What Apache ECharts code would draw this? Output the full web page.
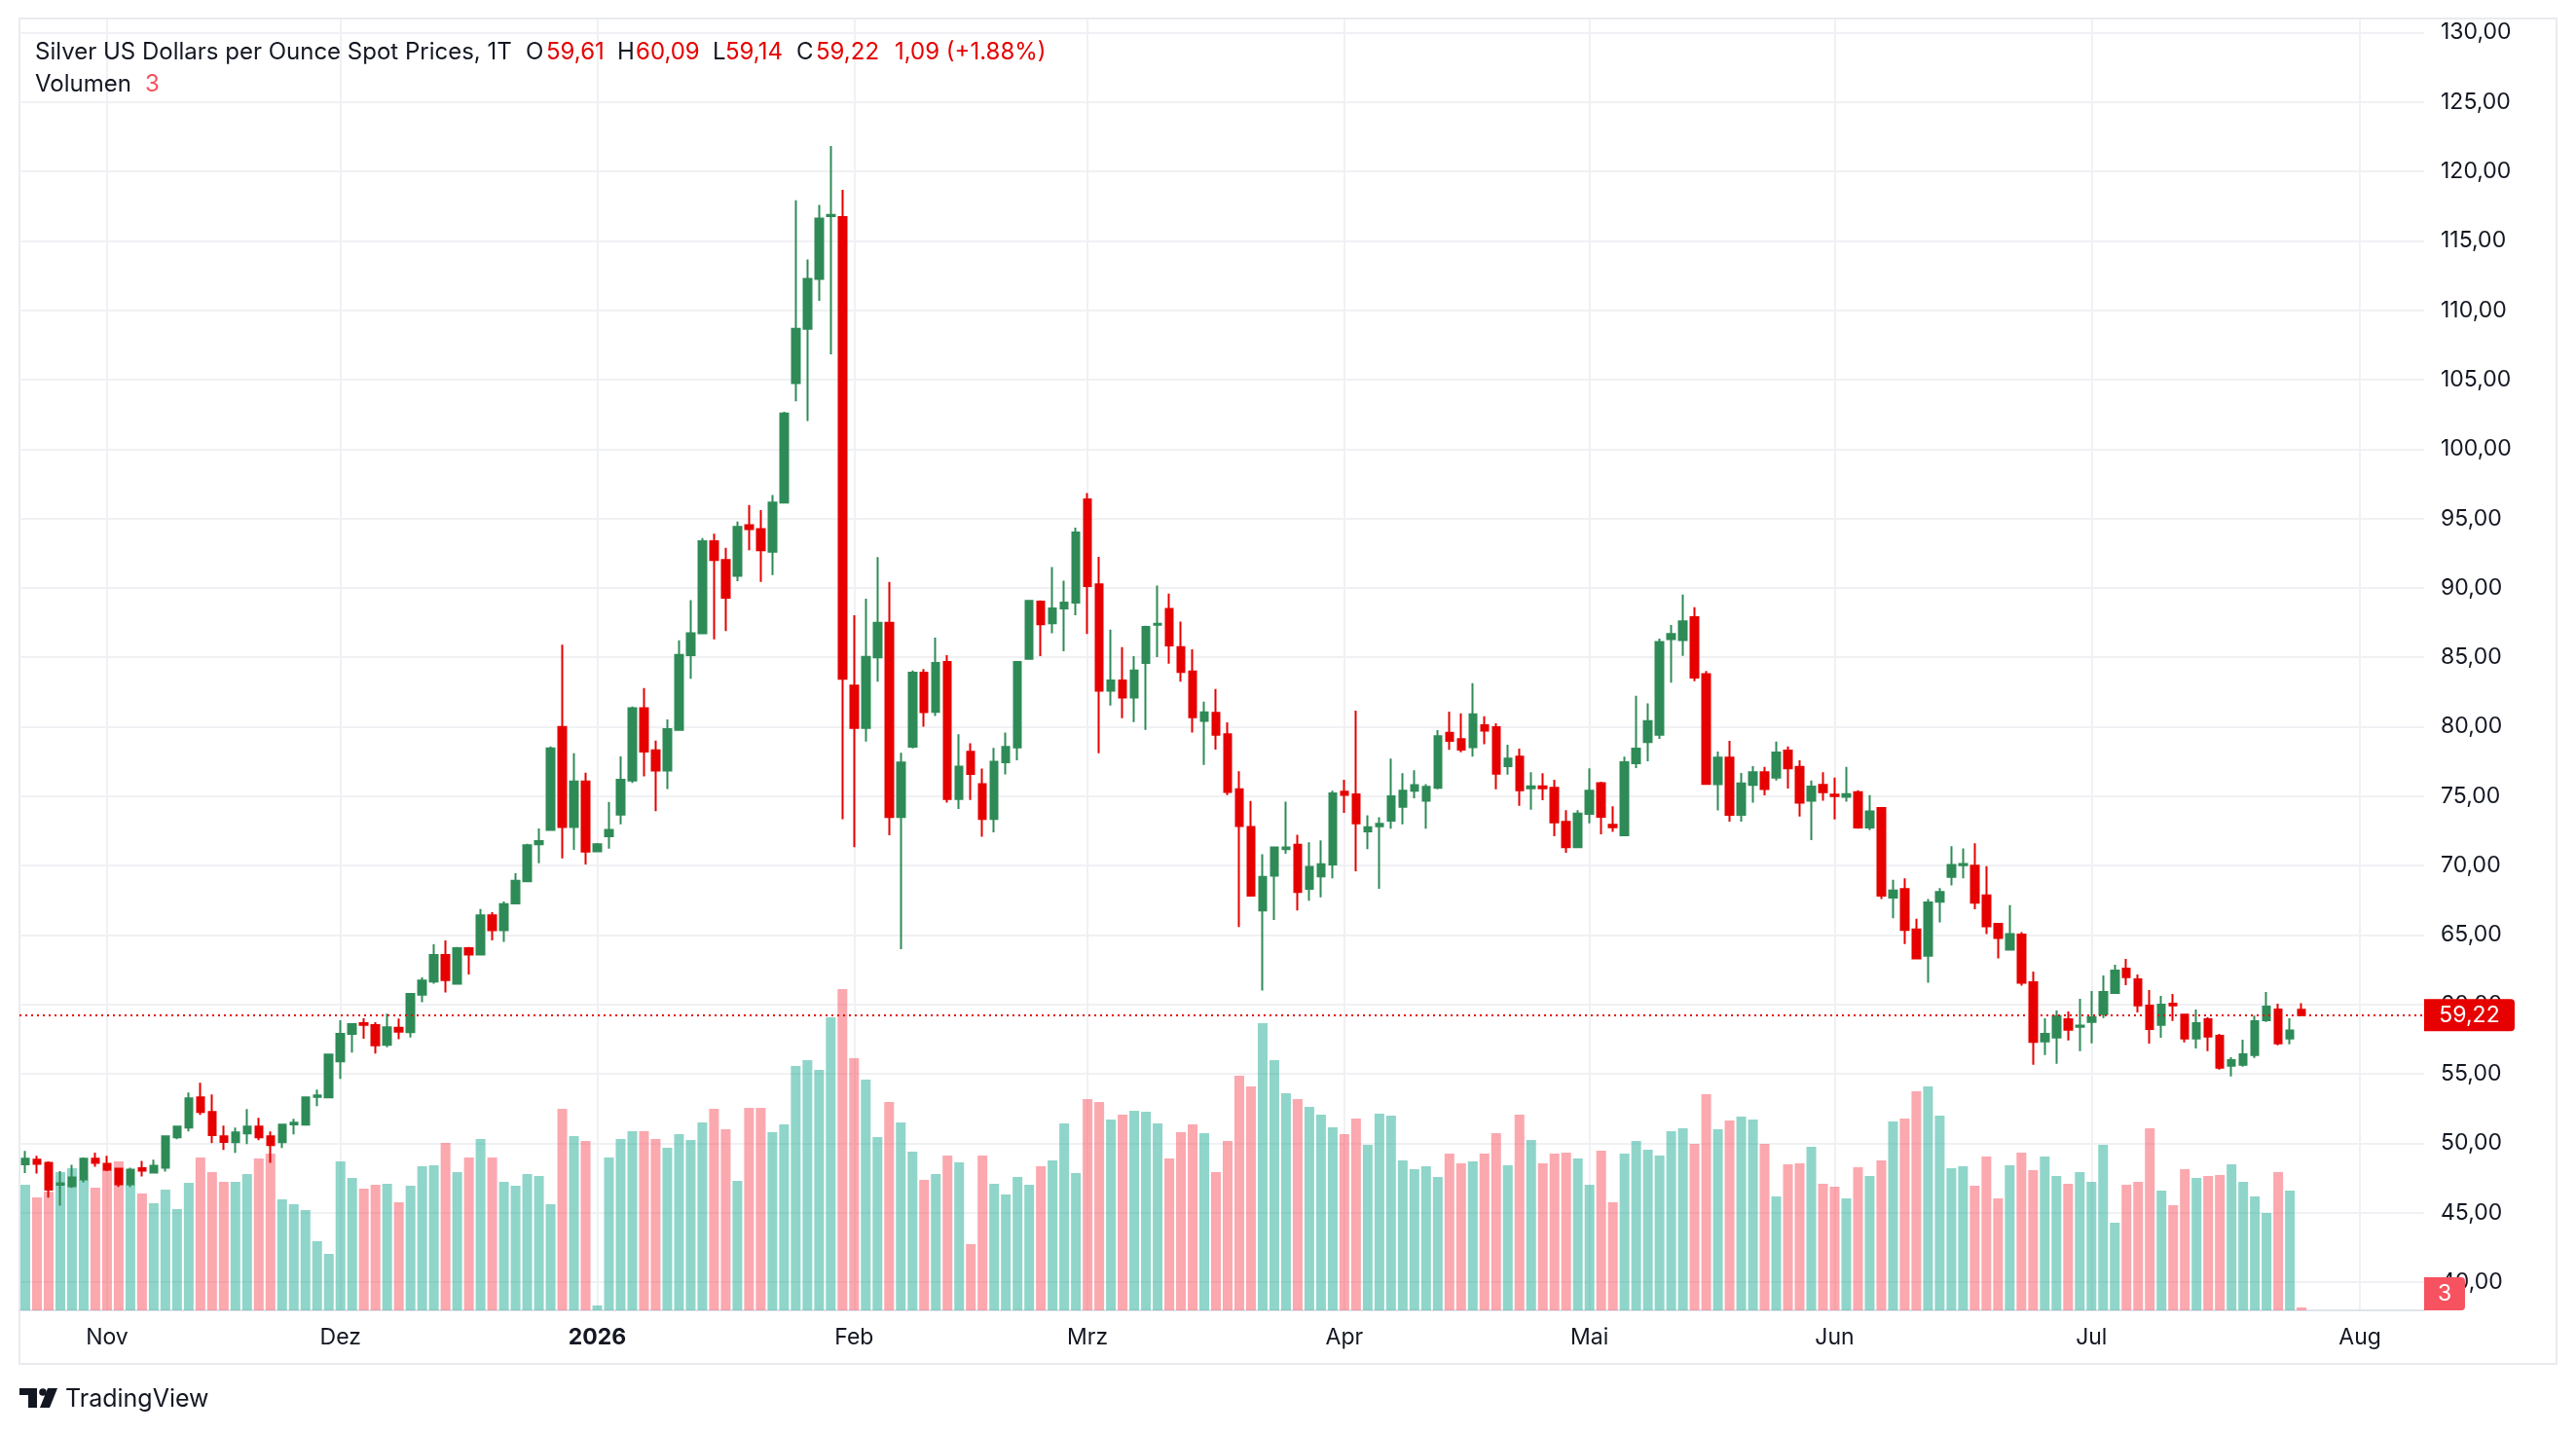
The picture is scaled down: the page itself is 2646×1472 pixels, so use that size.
<!DOCTYPE html>
<html>
<head>
<meta charset="utf-8">
<title>Silver US Dollars per Ounce Spot Prices</title>
<script src="https://cdn.jsdelivr.net/npm/echarts@6/dist/echarts.min.js"></script>
<style>
  html, body { margin: 0; background: #fff; }
  #chart { width: 2646px; height: 1472px; }
</style>
</head>
<body>
<div id="chart"></div>
<script>
// trading days start here, weekends and these days are skipped
const startDate = '2025-10-23'
const holidays = ['2025-12-25', '2026-04-03']
const slotCount = 206 // bars + empty future slots on the right

const opens = [48.48, 48.81, 48.59, 47.00, 46.91, 47.40, 48.88, 48.52, 48.17, 47.05, 48.20, 47.89, 48.24, 50.42, 51.12, 53.30, 52.25, 50.49, 50.07, 50.70, 51.19, 50.49, 50.07, 51.36, 51.33, 53.33, 53.30, 55.90, 57.87, 58.64, 58.50, 57.08, 58.32, 58.00, 60.70, 61.65, 63.56, 61.49, 64.04, 63.59, 66.42, 65.34, 67.28, 68.87, 71.54, 72.56, 79.99, 72.78, 76.05, 71.03, 72.11, 73.67, 76.12, 81.33, 78.31, 76.85, 79.77, 85.15, 86.73, 93.37, 92.01, 90.87, 94.51, 94.24, 92.61, 96.15, 104.75, 108.67, 112.26, 116.78, 116.72, 82.97, 79.92, 84.99, 87.49, 73.50, 78.56, 83.90, 81.07, 84.67, 74.80, 78.20, 75.87, 73.35, 77.44, 78.51, 84.89, 89.02, 87.46, 88.53, 88.95, 96.37, 90.25, 82.60, 83.33, 82.10, 84.59, 87.34, 88.49, 85.74, 83.98, 80.42, 81.00, 79.46, 75.49, 72.77, 66.76, 69.28, 71.19, 71.50, 68.33, 69.22, 70.07, 75.32, 75.12, 72.46, 72.83, 73.24, 74.23, 75.39, 74.68, 75.60, 79.56, 79.11, 78.53, 80.10, 79.97, 77.17, 77.85, 75.56, 75.70, 75.60, 73.14, 71.33, 73.72, 75.94, 72.94, 72.18, 77.37, 78.89, 79.43, 86.32, 86.25, 87.90, 83.79, 75.86, 77.78, 73.66, 75.82, 76.73, 76.33, 78.29, 77.11, 74.68, 75.82, 75.11, 74.95, 75.28, 72.75, 74.14, 67.69, 68.30, 65.40, 63.51, 67.39, 69.18, 70.02, 69.99, 67.86, 65.80, 63.95, 65.03, 61.59, 57.33, 57.61, 58.92, 58.39, 58.74, 59.30, 60.82, 62.57, 61.80, 59.91, 58.53, 60.05, 59.27, 57.54, 58.92, 57.73, 55.58, 55.65, 56.35, 58.85, 59.63, 57.54, 59.61]
const highs = [49.44, 49.09, 48.69, 47.99, 48.45, 48.97, 49.32, 49.09, 48.22, 48.24, 48.73, 48.81, 50.49, 51.19, 53.65, 54.36, 53.51, 51.26, 51.12, 52.46, 51.83, 50.84, 51.41, 51.76, 53.37, 53.86, 56.46, 58.85, 58.64, 58.99, 58.71, 59.33, 58.98, 60.76, 61.94, 64.32, 64.61, 64.13, 64.13, 66.87, 66.64, 67.41, 69.44, 71.57, 72.68, 78.59, 85.91, 78.09, 76.69, 71.63, 74.59, 77.86, 81.46, 82.79, 79.01, 80.53, 86.22, 89.12, 93.59, 93.91, 92.88, 94.78, 95.98, 95.60, 96.69, 102.68, 117.92, 113.67, 117.59, 121.84, 118.68, 88.03, 89.23, 92.23, 90.43, 78.13, 84.06, 84.15, 86.42, 85.16, 79.46, 78.81, 76.98, 78.47, 79.58, 84.74, 89.14, 89.10, 91.51, 90.52, 94.34, 96.83, 92.24, 87.00, 85.74, 85.09, 87.27, 90.17, 89.60, 87.57, 85.58, 81.80, 82.72, 80.31, 76.79, 74.65, 70.82, 71.30, 74.61, 72.22, 71.67, 71.81, 75.39, 76.18, 81.16, 73.62, 73.48, 77.71, 76.66, 76.86, 75.87, 79.76, 81.09, 80.96, 83.14, 80.75, 80.24, 78.70, 78.43, 76.72, 76.66, 76.18, 73.99, 73.99, 77.00, 76.04, 74.27, 77.85, 82.22, 81.69, 86.35, 87.33, 89.52, 88.61, 84.02, 78.22, 78.99, 76.67, 77.17, 77.11, 78.93, 78.59, 77.58, 76.13, 76.73, 76.33, 77.11, 75.42, 75.08, 74.20, 68.97, 69.08, 66.17, 67.59, 68.37, 71.40, 71.23, 71.61, 69.95, 65.80, 67.15, 65.20, 62.36, 58.99, 59.56, 59.49, 60.40, 60.96, 62.08, 62.85, 63.28, 62.15, 61.03, 60.61, 60.75, 59.34, 59.63, 59.06, 57.87, 56.19, 57.45, 59.20, 60.89, 60.05, 58.99, 60.09]
const lows = [47.85, 47.82, 46.07, 45.50, 46.77, 47.19, 48.31, 47.99, 46.84, 46.84, 47.61, 47.89, 47.96, 50.28, 50.84, 52.04, 50.00, 49.51, 49.30, 49.93, 50.21, 48.59, 49.65, 50.63, 51.26, 52.67, 53.30, 54.64, 56.53, 57.52, 56.46, 56.92, 57.49, 57.62, 60.16, 61.49, 60.86, 61.49, 62.16, 63.59, 64.61, 64.51, 67.22, 68.87, 70.17, 72.49, 70.52, 71.13, 70.08, 70.97, 71.22, 72.97, 75.96, 76.43, 73.92, 75.51, 79.77, 83.46, 86.73, 86.29, 86.89, 90.48, 92.72, 90.43, 90.92, 96.15, 103.44, 102.03, 110.68, 106.82, 73.34, 71.32, 78.94, 83.24, 72.19, 63.97, 78.45, 80.00, 80.77, 74.53, 74.07, 74.72, 72.08, 72.39, 76.56, 77.59, 84.82, 85.09, 86.73, 85.43, 88.03, 86.69, 78.09, 81.53, 80.61, 80.34, 79.77, 85.01, 84.55, 83.25, 79.58, 77.25, 78.36, 75.07, 65.58, 67.76, 60.99, 66.08, 70.85, 66.76, 67.47, 67.71, 69.08, 73.79, 69.59, 71.19, 68.33, 72.66, 72.97, 74.85, 72.66, 75.49, 78.33, 78.16, 77.85, 78.74, 75.49, 76.55, 74.30, 74.03, 74.71, 72.12, 70.92, 71.26, 73.04, 72.25, 72.42, 72.18, 77.03, 77.51, 79.13, 83.18, 85.10, 83.28, 75.82, 73.97, 73.16, 73.16, 74.54, 75.05, 76.13, 75.55, 73.53, 71.84, 74.68, 73.33, 74.61, 72.65, 72.55, 67.59, 66.21, 64.35, 63.31, 61.55, 65.90, 68.57, 69.08, 66.85, 65.06, 63.31, 63.88, 61.35, 55.65, 56.35, 55.72, 57.40, 56.63, 57.19, 59.02, 60.82, 61.38, 59.42, 57.17, 57.59, 58.81, 57.26, 56.82, 56.63, 55.30, 54.81, 55.51, 56.14, 58.74, 57.05, 57.12, 59.14]
const closes = [48.88, 48.52, 46.65, 47.12, 47.54, 48.88, 48.59, 48.10, 47.05, 48.10, 48.03, 48.38, 50.49, 51.19, 53.23, 52.25, 50.59, 50.09, 50.77, 51.19, 50.42, 49.86, 51.33, 51.48, 53.30, 53.44, 56.39, 57.87, 58.57, 58.52, 57.05, 58.35, 58.03, 60.76, 61.72, 63.56, 61.75, 64.04, 63.59, 66.42, 65.34, 67.22, 68.90, 71.47, 71.76, 78.44, 72.78, 76.05, 71.00, 71.54, 72.56, 76.18, 81.33, 78.21, 76.85, 79.83, 85.17, 86.73, 93.37, 92.01, 89.29, 94.40, 94.24, 92.72, 96.15, 102.57, 108.67, 112.26, 116.61, 116.88, 83.46, 79.92, 85.04, 87.49, 73.50, 77.42, 83.90, 81.05, 84.59, 74.80, 77.13, 76.60, 73.35, 77.48, 78.55, 84.67, 89.06, 87.38, 88.53, 88.95, 94.00, 90.13, 82.60, 83.33, 82.10, 84.05, 87.19, 87.42, 85.85, 83.94, 80.69, 81.03, 79.43, 75.30, 72.85, 67.84, 69.18, 71.30, 71.30, 68.09, 69.90, 70.10, 75.19, 75.09, 73.04, 72.76, 73.00, 74.98, 75.39, 75.80, 75.67, 79.32, 78.98, 78.36, 80.89, 79.73, 76.62, 77.71, 75.43, 75.70, 75.56, 73.11, 71.33, 73.75, 75.39, 73.52, 72.76, 77.44, 78.43, 80.41, 86.11, 86.69, 87.60, 83.55, 75.89, 77.78, 73.66, 75.92, 76.73, 75.52, 78.15, 77.00, 74.54, 75.69, 75.28, 75.01, 75.15, 72.75, 73.90, 67.83, 68.20, 65.36, 63.31, 67.35, 68.10, 70.05, 70.12, 67.32, 65.63, 64.79, 65.06, 61.55, 57.30, 57.87, 59.16, 58.17, 58.48, 59.06, 60.89, 62.43, 61.97, 59.93, 58.22, 59.98, 59.93, 57.54, 58.64, 57.68, 55.44, 55.98, 56.40, 58.78, 59.84, 57.19, 58.13, 59.22]
const volumes = [129, 116, 122, 142, 146, 134, 126, 144, 153, 129, 120, 110, 124, 104, 131, 157, 142, 132, 132, 140, 156, 161, 114, 109, 103, 71, 58, 153, 136, 125, 129, 130, 111, 128, 148, 149, 172, 142, 157, 176, 157, 132, 128, 140, 138, 109, 207, 179, 174, 5, 157, 176, 184, 184, 176, 167, 181, 175, 193, 207, 186, 133, 208, 208, 183, 191, 251, 257, 247, 301, 330, 259, 237, 178, 214, 193, 163, 134, 140, 159, 152, 68, 159, 130, 119, 137, 129, 148, 154, 192, 141, 217, 214, 196, 201, 205, 204, 192, 156, 183, 191, 182, 142, 174, 241, 230, 295, 257, 223, 217, 209, 201, 188, 181, 197, 170, 202, 200, 154, 145, 148, 137, 161, 151, 153, 161, 182, 149, 201, 175, 151, 161, 162, 156, 129, 164, 111, 161, 174, 165, 159, 184, 187, 171, 222, 186, 195, 199, 196, 171, 117, 150, 151, 168, 130, 127, 115, 147, 138, 154, 194, 197, 225, 230, 200, 146, 148, 128, 158, 115, 149, 162, 144, 158, 138, 130, 142, 132, 170, 90, 129, 132, 187, 123, 108, 145, 136, 138, 139, 150, 132, 117, 100, 142, 123, 3]

const priceTicks = [40, 45, 50, 55, 60, 65, 70, 75, 80, 85, 90, 95, 100, 105, 110, 115, 120, 125, 130]
const monthNames = ['Jan', 'Feb', 'Mrz', 'Apr', 'Mai', 'Jun', 'Jul', 'Aug', 'Sep', 'Okt', 'Nov', 'Dez']
const lastPrice = 59.22
const lastVolume = 3

const UP = '#2e8b57'
const DOWN = '#e60000'
const VOL_UP = 'rgba(34, 171, 148, 0.5)'
const VOL_DOWN = 'rgba(247, 82, 95, 0.5)'
const TEXT = '#131722'
const FONT = 'Inter, "Noto Sans", sans-serif'

function tradingDays (start, count) {
  const out = []
  const d = new Date(start + 'T00:00:00Z')
  while (out.length < count) {
    const s = d.toISOString().slice(0, 10)
    const wd = d.getUTCDay()
    if (wd !== 0 && wd !== 6 && holidays.indexOf(s) < 0) out.push(s)
    d.setUTCDate(d.getUTCDate() + 1)
  }
  return out
}

const dates = tradingDays(startDate, slotCount)
const isMonthStart = (i) => i > 0 && dates[i].slice(5, 7) !== dates[i - 1].slice(5, 7)
const monthStarts = dates.filter((d, i) => isMonthStart(i))

const candleData = opens.map((o, i) => [o, closes[i], lows[i], highs[i]])
const volumeData = volumes.map((v, i) => ({
  value: v,
  itemStyle: { color: closes[i] >= opens[i] ? VOL_UP : VOL_DOWN }
}))

const fmtPrice = (v) => v.toFixed(2).replace('.', ',')

const chart = echarts.init(document.getElementById('chart'))

chart.setOption({
  animation: false,
  backgroundColor: '#fff',
  grid: { left: 20, right: 156, top: 20, bottom: 126 },
  xAxis: [{
    type: 'category',
    data: dates,
    boundaryGap: true,
    axisLine: { lineStyle: { color: '#e0e3eb', width: 2 } },
    axisTick: { show: false },
    axisLabel: {
      interval: (i) => isMonthStart(i),
      color: TEXT,
      fontSize: 23,
      fontFamily: FONT,
      margin: 17,
      formatter: function (v) {
        const m = +v.slice(5, 7)
        if (m === 1) return '{y|' + v.slice(0, 4) + '}'
        return monthNames[m - 1]
      },
      rich: {
        y: { fontWeight: 'bold', fontSize: 23, fontFamily: FONT, color: TEXT }
      }
    },
    splitLine: { show: false }
  }],
  yAxis: [{
    type: 'value',
    position: 'right',
    min: 37.96,
    max: 130.95,
    axisLine: { show: false },
    axisTick: { show: false, customValues: priceTicks },
    axisLabel: {
      customValues: priceTicks,
      formatter: fmtPrice,
      color: TEXT,
      fontSize: 23,
      fontFamily: FONT,
      margin: 17
    },
    splitLine: { show: false }
  }, {
    // volume overlay, bars grow from the bottom of the pane
    type: 'value',
    min: 0,
    max: 1326,
    show: false
  }],
  series: [{
    // grid lines only
    type: 'line',
    data: [],
    silent: true,
    z: 0,
    markLine: {
      silent: true,
      symbol: 'none',
      z: 0,
      label: { show: false },
      lineStyle: { color: '#f0f1f4', width: 2, type: 'solid' },
      data: priceTicks.map((v) => ({ yAxis: v }))
        .concat(monthStarts.map((d) => ({ xAxis: d })))
    }
  }, {
    name: 'Volumen',
    type: 'bar',
    yAxisIndex: 1,
    data: volumeData,
    barWidth: 10,
    z: 2
  }, {
    name: 'Silver',
    type: 'candlestick',
    data: candleData,
    barWidth: 8,
    z: 3,
    itemStyle: {
      color: UP,
      color0: DOWN,
      borderColor: UP,
      borderColor0: DOWN,
      borderWidth: 2
    },
    markLine: {
      silent: true,
      symbol: 'none',
      label: { show: false },
      lineStyle: { color: DOWN, width: 2, type: [2, 4] },
      data: [{ yAxis: lastPrice }]
    }
  }]
})

// header, frame, last value tags and logo
const py = chart.convertToPixel({ yAxisIndex: 0 }, lastPrice)
const vy = Math.min(chart.convertToPixel({ yAxisIndex: 1 }, lastVolume) - 17, 1346 - 34)

const header = [
  ['Silver US Dollars per Ounce Spot Prices, 1T', 36, TEXT],
  ['O', 540, TEXT], ['59,61', 561, DOWN],
  ['H', 634, TEXT], ['60,09', 653, DOWN],
  ['L', 732, TEXT], ['59,14', 745, DOWN],
  ['C', 818, TEXT], ['59,22', 838, DOWN],
  ['1,09 (+1.88%)', 919, DOWN]
]

const graphics = header.map((h) => ({
  type: 'text',
  x: h[1],
  y: 54,
  style: { text: h[0], fill: h[2], font: '24px ' + FONT, textVerticalAlign: 'middle' }
}))

graphics.push(
  { type: 'text', x: 36, y: 87, style: { text: 'Volumen', fill: TEXT, font: '24px ' + FONT, textVerticalAlign: 'middle' } },
  { type: 'text', x: 149, y: 87, style: { text: String(lastVolume), fill: '#f7525f', font: '24px ' + FONT, textVerticalAlign: 'middle' } },
  {
    type: 'rect',
    z: -1,
    shape: { x: 20, y: 19, width: 2606, height: 1382 },
    style: { fill: 'none', stroke: '#eaebef', lineWidth: 2 }
  },
  {
    type: 'rect',
    z: 100,
    shape: { x: 2490, y: py - 16.5, width: 93, height: 33, r: [0, 4, 4, 0] },
    style: { fill: DOWN }
  },
  {
    type: 'text',
    z: 101,
    x: 2536.5,
    y: py,
    style: { text: fmtPrice(lastPrice), fill: '#fff', font: '23px ' + FONT, textAlign: 'center', textVerticalAlign: 'middle' }
  },
  {
    type: 'rect',
    z: 100,
    shape: { x: 2490, y: vy, width: 42, height: 34, r: [0, 4, 4, 0] },
    style: { fill: '#f7525f' }
  },
  {
    type: 'text',
    z: 101,
    x: 2511,
    y: vy + 17,
    style: { text: String(lastVolume), fill: '#fff', font: '23px ' + FONT, textAlign: 'center', textVerticalAlign: 'middle' }
  },
  // TradingView logo
  {
    type: 'polygon',
    shape: { points: [[20, 1426], [38, 1426], [38, 1446], [29, 1446], [29, 1433], [20, 1433]] },
    style: { fill: TEXT }
  },
  { type: 'circle', shape: { cx: 44, cy: 1430, r: 3.8 }, style: { fill: TEXT } },
  {
    type: 'polygon',
    shape: { points: [[49, 1426], [59, 1426], [51, 1446], [41, 1446]] },
    style: { fill: TEXT }
  },
  {
    type: 'text',
    x: 67,
    y: 1437,
    style: { text: 'TradingView', fill: TEXT, font: '25px ' + FONT, textVerticalAlign: 'middle' }
  }
)

chart.setOption({ graphic: graphics })
</script>
</body>
</html>
